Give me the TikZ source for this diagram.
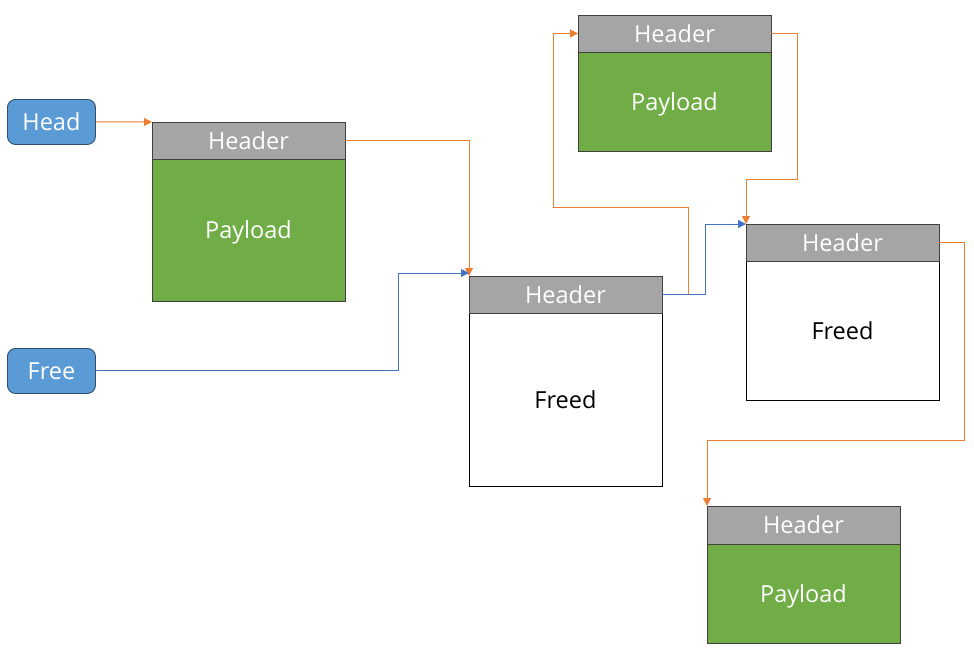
\documentclass[tikz,border=0pt]{standalone}
\usepackage{fontspec}
\setmainfont{Open Sans}
\usetikzlibrary{arrows.meta}
\definecolor{hdrgray}{HTML}{A5A5A5}
\definecolor{paygreen}{HTML}{70AD47}
\definecolor{nodeblue}{HTML}{5B9BD5}
\definecolor{nodeblueb}{HTML}{2E4F73}
\definecolor{linkorange}{HTML}{ED7D31}
\definecolor{linkblue}{HTML}{4472C4}
\definecolor{boxedge}{HTML}{404040}
\tikzset{
  base/.style={rectangle, anchor=north west, minimum width=193pt, inner sep=0pt, outer sep=0pt, font=\fontsize{23.5}{27}\selectfont},
  hdr/.style={base, fill=hdrgray, draw=boxedge, line width=0.9pt, text=white, minimum height=37pt},
  pay/.style={base, fill=paygreen, draw=boxedge, line width=0.9pt, text=white, text depth=0pt},
  freed/.style={base, fill=white, draw=black, line width=0.9pt, text=black},
  ptr/.style={rectangle, rounded corners=8pt, fill=nodeblue, draw=nodeblueb, line width=0.9pt, text=white, minimum width=88pt, minimum height=45pt, inner sep=0pt, anchor=north west, font=\fontsize{23.5}{27}\selectfont},
  olink/.style={draw=linkorange, line width=1pt, -{Triangle[length=8pt,width=8pt]}},
  blink/.style={draw=linkblue, line width=1pt, -{Triangle[length=8pt,width=8pt]}},
}
\begin{document}
\begin{tikzpicture}[x=1pt,y=-1pt]
\useasboundingbox (0,0) rectangle (974,656);
% pointer nodes
\node[ptr] (head) at (7,99) {Head};
\node[ptr] (free) at (7,348) {Free};
% block A
\node[pay, minimum height=142pt] (Abody) at (152,159) {Payload};
\node[hdr] (Ahdr) at (152,122) {Header};
% block B
\node[freed, minimum height=173pt] (Bbody) at (469,313) {Freed};
\node[hdr] (Bhdr) at (469,276) {Header};
% block C
\node[pay, minimum height=99pt] (Cbody) at (578,52) {Payload};
\node[hdr] (Chdr) at (578,15) {Header};
% block D
\node[freed, minimum height=139pt] (Dbody) at (746,261) {Freed};
\node[hdr] (Dhdr) at (746,224) {Header};
% block E
\node[pay, minimum height=99pt] (Ebody) at (707,544) {Payload};
\node[hdr, minimum height=38pt] (Ehdr) at (707,506) {Header};
% links
\draw[olink] (head.east) -- (Ahdr.north west);
\draw[olink] (Ahdr.east) -| (Bhdr.north west);
\draw[blink] (free.east) -| (398,273) -- ([yshift=3pt]Bhdr.north west);
\draw[olink] (Bhdr.east) -| (688,207) -- (553,207) |- (Chdr.west);
\draw[blink] (Bhdr.east) -| (705,224) -- (Dhdr.north west);
\draw[olink] (Chdr.east) -| (797,179) -| (Dhdr.north west);
\draw[olink] (Dhdr.east) -| (964,440) -| (Ehdr.north west);
\end{tikzpicture}
\end{document}
